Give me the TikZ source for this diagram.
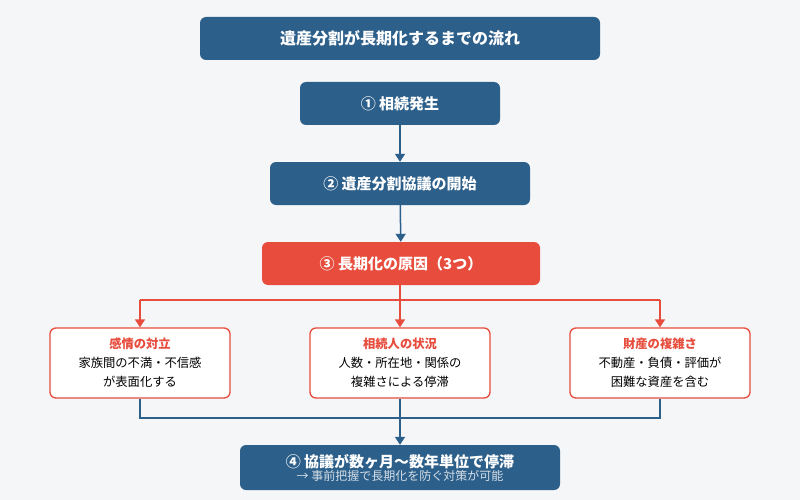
\documentclass[tikz,border=0pt]{standalone}
\usepackage{fontspec}
\setmainfont{Noto Sans CJK JP}
\usetikzlibrary{arrows.meta}
\definecolor{bg}{HTML}{F5F6F8}
\definecolor{db}{HTML}{2C5F8A}
\definecolor{rd}{HTML}{E74C3C}
\begin{document}
\begin{tikzpicture}[x=1pt,y=-1pt,
  blue/.style={fill=db,rounded corners=6pt,text=white,font=\bfseries\fontsize{15}{17}\selectfont,inner sep=0},
  red/.style={fill=rd,rounded corners=6pt,text=white,font=\bfseries\fontsize{15}{17}\selectfont,inner sep=0},
  card/.style={draw=rd,line width=1.3pt,fill=white,rounded corners=6pt,minimum width=180pt,minimum height=70pt,align=center,font=\fontsize{12.3}{19}\selectfont,inner sep=0},
  bl/.style={draw=db,line width=1.5pt},
  rl/.style={draw=rd,line width=1.5pt},
  arr/.style={-{Triangle[length=8pt,width=10pt]}}]
\fill[bg] (0,0) rectangle (800,500);
\node[blue,minimum width=400pt,minimum height=43pt,font=\bfseries\fontsize{16}{18}\selectfont] (t) at (400,38.5) {遺産分割が長期化するまでの流れ};
\node[blue,minimum width=200pt,minimum height=43pt] (b1) at (400,103.5) {① 相続発生};
\node[blue,minimum width=260pt,minimum height=43pt] (b2) at (400,183.5) {② 遺産分割協議の開始};
\node[red,minimum width=278pt,minimum height=43pt] (b3) at (401,263.5) {③ 長期化の原因（3つ）};
\node[card] (c1) at (140,363) {{\bfseries\color{rd}感情の対立}\\家族間の不満・不信感\\が表面化する};
\node[card] (c2) at (400,363) {{\bfseries\color{rd}相続人の状況}\\人数・所在地・関係の\\複雑さによる停滞};
\node[card] (c3) at (660,363) {{\bfseries\color{rd}財産の複雑さ}\\不動産・負債・評価が\\困難な資産を含む};
\node[blue,minimum width=320pt,minimum height=45pt,align=center] (b4) at (400,467.5) {④ 協議が数ヶ月〜数年単位で停滞\\[-4pt]{\normalfont\fontsize{12}{13}\selectfont\color{white!80!db}→ 事前把握で長期化を防ぐ対策が可能}};
\draw[bl,arr] (b1) -- (b2);
\draw[bl,arr] (b2) -- (b3);
\coordinate (s) at (400,300);
\draw[rl] (b3.south -| s) -- (s);
\draw[rl] (140,300) -- (660,300);
\draw[rl,arr] (140,300) -- (c1.north);
\draw[rl,arr] (s) -- (c2.north);
\draw[rl,arr] (660,300) -- (c3.north);
\coordinate (j) at (400,418);
\draw[bl] (c1.south) -- (140,418) -- (660,418) -- (c3.south);
\draw[bl] (c2.south) -- (j);
\draw[bl,arr] (j) -- (b4.north);
\end{tikzpicture}
\end{document}
